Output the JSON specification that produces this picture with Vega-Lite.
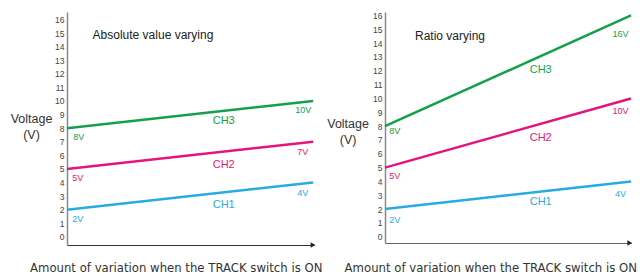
{
  "$schema": "https://vega.github.io/schema/vega-lite/v6.json",
  "padding": {"left": 10, "top": 10, "right": 0, "bottom": 0},
  "bounds": "flush",
  "spacing": 71,
  "config": {"view": {"stroke": null}, "font": "Liberation Sans"},
  "datasets": {
    "absLines": [
      {"series": "CH1", "x": 0, "v": 2}, {"series": "CH1", "x": 1, "v": 4},
      {"series": "CH2", "x": 0, "v": 5}, {"series": "CH2", "x": 1, "v": 7},
      {"series": "CH3", "x": 0, "v": 8}, {"series": "CH3", "x": 1, "v": 10}
    ],
    "ratioLines": [
      {"series": "CH1", "x": 0, "v": 2}, {"series": "CH1", "x": 1, "v": 4},
      {"series": "CH2", "x": 0, "v": 5}, {"series": "CH2", "x": 1, "v": 10},
      {"series": "CH3", "x": 0, "v": 8}, {"series": "CH3", "x": 1, "v": 16}
    ],
    "absLabels": [
      {"series": "CH3", "kind": "value", "x": 0.048, "v": 7.35, "text": "8V"},
      {"series": "CH3", "kind": "value", "x": 0.96, "v": 9.32, "text": "10V"},
      {"series": "CH3", "kind": "name", "x": 0.637, "v": 8.53, "text": "CH3"},
      {"series": "CH2", "kind": "value", "x": 0.044, "v": 4.36, "text": "5V"},
      {"series": "CH2", "kind": "value", "x": 0.958, "v": 6.25, "text": "7V"},
      {"series": "CH2", "kind": "name", "x": 0.637, "v": 5.31, "text": "CH2"},
      {"series": "CH1", "kind": "value", "x": 0.044, "v": 1.34, "text": "2V"},
      {"series": "CH1", "kind": "value", "x": 0.958, "v": 3.23, "text": "4V"},
      {"series": "CH1", "kind": "name", "x": 0.637, "v": 2.37, "text": "CH1"}
    ],
    "ratioLabels": [
      {"series": "CH3", "kind": "value", "x": 0.04, "v": 7.63, "text": "8V"},
      {"series": "CH3", "kind": "value", "x": 0.957, "v": 14.64, "text": "16V"},
      {"series": "CH3", "kind": "name", "x": 0.633, "v": 12.04, "text": "CH3"},
      {"series": "CH2", "kind": "value", "x": 0.04, "v": 4.42, "text": "5V"},
      {"series": "CH2", "kind": "value", "x": 0.957, "v": 9.07, "text": "10V"},
      {"series": "CH2", "kind": "name", "x": 0.633, "v": 7.14, "text": "CH2"},
      {"series": "CH1", "kind": "value", "x": 0.04, "v": 1.24, "text": "2V"},
      {"series": "CH1", "kind": "value", "x": 0.957, "v": 3.12, "text": "4V"},
      {"series": "CH1", "kind": "name", "x": 0.633, "v": 2.52, "text": "CH1"}
    ],
    "absTitle": [{"x": 0.104, "v": 14.83, "text": "Absolute value varying"}],
    "ratioTitle": [{"x": 0.122, "v": 14.5, "text": "Ratio varying"}],
    "absArrow": [{"x": 1.0, "v": -0.6}],
    "ratioArrow": [{"x": 0.995, "v": -0.45}]
  },
  "hconcat": [
    {
      "width": 247,
      "height": 233,
      "encoding": {
        "x": {"field": "x", "type": "quantitative",
          "scale": {"domain": [0, 1.004], "nice": false, "zero": false},
          "axis": {"labels": false, "ticks": false, "grid": false, "domainColor": "#333", "domainWidth": 1,
            "title": "Amount of variation when the TRACK switch is ON",
            "titleFont": "DejaVu Sans Condensed, Liberation Sans", "titleFontSize": 13, "titleFontWeight": "normal", "titleColor": "#333",
            "titleX": 108.7, "titleY": 26, "titleAlign": "center", "titleBaseline": "alphabetic"}},
        "y": {"field": "v", "type": "quantitative",
          "scale": {"domain": [-0.6, 16.55], "nice": false, "zero": false},
          "axis": {"values": [0,1,2,3,4,5,6,7,8,9,10,11,12,13,14,15,16], "tickSize": 0, "ticks": false, "grid": false,
            "labelFont": "Liberation Sans", "labelFontSize": 8.5, "labelColor": "#444", "labelPadding": 3, "labelOverlap": false,
            "domainColor": "#888", "domainWidth": 1.5,
            "title": ["Voltage", "(V)"], "titleAngle": 0, "titleX": -36, "titleY": 110.5, "titleAlign": "center", "titleBaseline": "alphabetic",
            "titleFontSize": 12.5, "titleFontWeight": "normal", "titleColor": "#333", "titleLineHeight": 16}}
      },
      "layer": [
        {
          "data": {"name": "absLines"},
          "mark": {"type": "line", "strokeWidth": 2.5},
          "encoding": {"color": {"field": "series", "type": "nominal", "legend": null,
            "scale": {"domain": ["CH1", "CH2", "CH3"], "range": ["#29abe2", "#e4147e", "#13a04a"]}}}
        },
        {
          "data": {"name": "absLabels"},
          "transform": [{"filter": "datum.kind === 'value'"}],
          "mark": {"type": "text", "fontSize": 9, "align": "center", "baseline": "middle"},
          "encoding": {"text": {"field": "text"}, "color": {"field": "series", "type": "nominal", "legend": null}}
        },
        {
          "data": {"name": "absLabels"},
          "transform": [{"filter": "datum.kind === 'name'"}],
          "mark": {"type": "text", "fontSize": 11, "align": "center", "baseline": "middle"},
          "encoding": {"text": {"field": "text"}, "color": {"field": "series", "type": "nominal", "legend": null}}
        },
        {
          "data": {"name": "absTitle"},
          "mark": {"type": "text", "fontSize": 12, "align": "left", "baseline": "middle", "color": "#222"},
          "encoding": {"text": {"field": "text"}}
        },
        {
          "data": {"name": "absArrow"},
          "mark": {"type": "point", "shape": "triangle-right", "size": 30, "filled": true, "color": "#222", "opacity": 1},
          "encoding": {}
        }
      ]
    },
    {
      "width": 246,
      "height": 231,
      "encoding": {
        "x": {"field": "x", "type": "quantitative",
          "scale": {"domain": [0, 1.0], "nice": false, "zero": false},
          "axis": {"labels": false, "ticks": false, "grid": false, "domainColor": "#666", "domainWidth": 1.2,
            "title": "Amount of variation when the TRACK switch is ON",
            "titleFont": "DejaVu Sans Condensed, Liberation Sans", "titleFontSize": 13, "titleFontWeight": "normal", "titleColor": "#333",
            "titleX": 105.3, "titleY": 28, "titleAlign": "center", "titleBaseline": "alphabetic"}},
        "y": {"field": "v", "type": "quantitative",
          "scale": {"domain": [-0.45, 16.25], "nice": false, "zero": false},
          "axis": {"values": [0,1,2,3,4,5,6,7,8,9,10,11,12,13,14,15,16], "tickSize": 0, "ticks": false, "grid": false,
            "labelFont": "Liberation Sans", "labelFontSize": 8.5, "labelColor": "#444", "labelPadding": 3, "labelOverlap": false,
            "domainColor": "#888", "domainWidth": 1.5,
            "title": ["Voltage", "(V)"], "titleAngle": 0, "titleX": -37.4, "titleY": 115.5, "titleAlign": "center", "titleBaseline": "alphabetic",
            "titleFontSize": 12.5, "titleFontWeight": "normal", "titleColor": "#333", "titleLineHeight": 16}}
      },
      "layer": [
        {
          "data": {"name": "ratioLines"},
          "mark": {"type": "line", "strokeWidth": 2.5},
          "encoding": {"color": {"field": "series", "type": "nominal", "legend": null,
            "scale": {"domain": ["CH1", "CH2", "CH3"], "range": ["#29abe2", "#e4147e", "#13a04a"]}}}
        },
        {
          "data": {"name": "ratioLabels"},
          "transform": [{"filter": "datum.kind === 'value'"}],
          "mark": {"type": "text", "fontSize": 9, "align": "center", "baseline": "middle"},
          "encoding": {"text": {"field": "text"}, "color": {"field": "series", "type": "nominal", "legend": null}}
        },
        {
          "data": {"name": "ratioLabels"},
          "transform": [{"filter": "datum.kind === 'name'"}],
          "mark": {"type": "text", "fontSize": 11, "align": "center", "baseline": "middle"},
          "encoding": {"text": {"field": "text"}, "color": {"field": "series", "type": "nominal", "legend": null}}
        },
        {
          "data": {"name": "ratioTitle"},
          "mark": {"type": "text", "fontSize": 12, "align": "left", "baseline": "middle", "color": "#222"},
          "encoding": {"text": {"field": "text"}}
        },
        {
          "data": {"name": "ratioArrow"},
          "mark": {"type": "point", "shape": "triangle-right", "size": 30, "filled": true, "color": "#222", "opacity": 1},
          "encoding": {}
        }
      ]
    }
  ]
}
